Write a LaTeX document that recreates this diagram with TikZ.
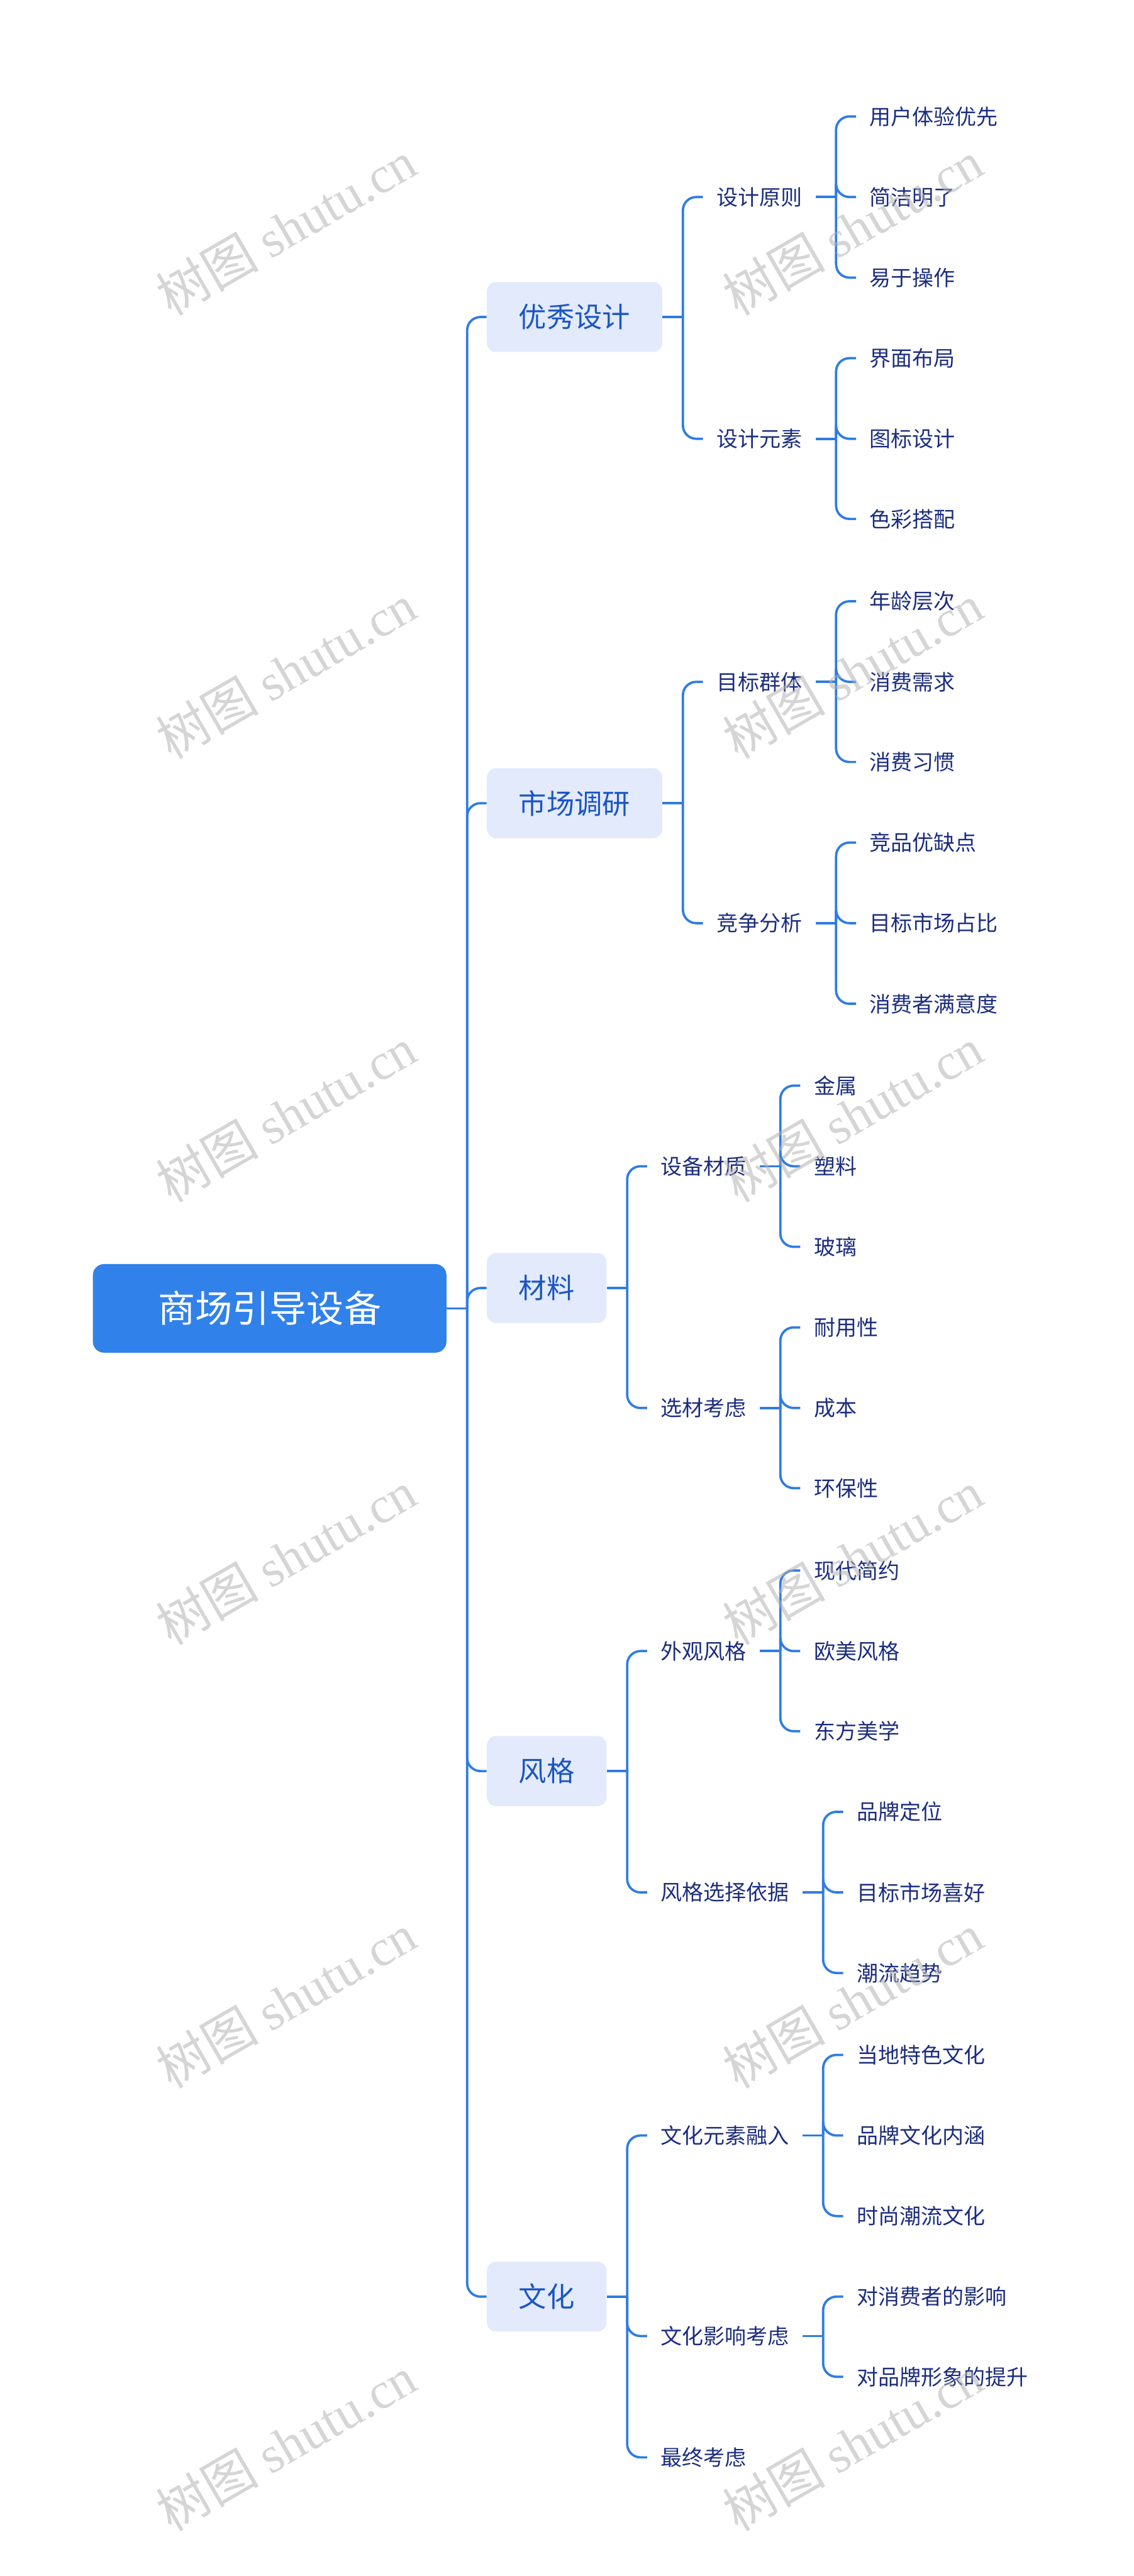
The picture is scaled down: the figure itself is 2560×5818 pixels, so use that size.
\documentclass[tikz,border=0pt]{standalone}
\usepackage{fontspec}
\setmainfont{Noto Sans CJK SC}
\newfontfamily\wmlatin{Liberation Serif}
\usetikzlibrary{positioning}

\definecolor{rootblue}{HTML}{3181EA}
\definecolor{linkblue}{HTML}{2F7CE3}
\definecolor{topicfill}{HTML}{E2EAFB}
\definecolor{topictext}{HTML}{1B55C2}
\definecolor{leaftext}{HTML}{1C2D7E}

% parent -> junction -> children
\newcommand{\mapbranch}[2]{%
  \draw[link] (#1.east) -- ++(46,0) coordinate (#1j);
  \foreach \c in {#2}{\draw[link] (#1j) |- (\c.west);}
}

\begin{document}
\begin{tikzpicture}[x=0.01cm,y=-0.01cm,
    root/.style={rectangle,rounded corners=0.25cm,fill=rootblue,text=white,
      font=\fontsize{23.9}{28}\selectfont,minimum width=7.98cm,minimum height=2cm},
    topic/.style={rectangle,rounded corners=0.2cm,fill=topicfill,text=topictext,
      font=\fontsize{17.9}{21}\selectfont,minimum height=1.58cm,inner xsep=0.72cm,
      anchor=west,xshift=0.9cm},
    sub/.style={text=leaftext,font=\fontsize{13.75}{16}\selectfont,
      inner xsep=0.3cm,inner ysep=0.1cm,anchor=west,xshift=0.91cm},
    link/.style={draw=linkblue,line width=1.5pt,rounded corners=0.3cm},
    wmark/.style={text=gray!60,opacity=0.55,rotate=30,font=\fontsize{33}{38}\selectfont}]
  \useasboundingbox (0,0) rectangle (2560,5818);

  \node[root] (root) at (609,2955) {商场引导设备};

  \node[topic] (t1) at (root.east |- 0,716) {优秀设计};
  \node[topic] (t2) at (root.east |- 0,1814) {市场调研};
  \node[topic] (t3) at (root.east |- 0,2909) {材料};
  \node[topic] (t4) at (root.east |- 0,4000) {风格};
  \node[topic] (t5) at (root.east |- 0,5187) {文化};

  % 优秀设计
  \node[sub] (s11) at (t1.east |- 0,445) {设计原则};
  \node[sub] (s12) at (t1.east |- 0,991) {设计元素};
  \node[sub] (l111) at (s11.east |- 0,263) {用户体验优先};
  \node[sub] (l112) at (s11.east |- 0,445) {简洁明了};
  \node[sub] (l113) at (s11.east |- 0,627) {易于操作};
  \node[sub] (l121) at (s12.east |- 0,809) {界面布局};
  \node[sub] (l122) at (s12.east |- 0,991) {图标设计};
  \node[sub] (l123) at (s12.east |- 0,1172) {色彩搭配};

  % 市场调研
  \node[sub] (s21) at (t2.east |- 0,1540) {目标群体};
  \node[sub] (s22) at (t2.east |- 0,2085) {竞争分析};
  \node[sub] (l211) at (s21.east |- 0,1358) {年龄层次};
  \node[sub] (l212) at (s21.east |- 0,1540) {消费需求};
  \node[sub] (l213) at (s21.east |- 0,1721) {消费习惯};
  \node[sub] (l221) at (s22.east |- 0,1903) {竞品优缺点};
  \node[sub] (l222) at (s22.east |- 0,2085) {目标市场占比};
  \node[sub] (l223) at (s22.east |- 0,2267) {消费者满意度};

  % 材料
  \node[sub] (s31) at (t3.east |- 0,2634) {设备材质};
  \node[sub] (s32) at (t3.east |- 0,3180) {选材考虑};
  \node[sub] (l311) at (s31.east |- 0,2452) {金属};
  \node[sub] (l312) at (s31.east |- 0,2634) {塑料};
  \node[sub] (l313) at (s31.east |- 0,2816) {玻璃};
  \node[sub] (l321) at (s32.east |- 0,2998) {耐用性};
  \node[sub] (l322) at (s32.east |- 0,3180) {成本};
  \node[sub] (l323) at (s32.east |- 0,3361) {环保性};

  % 风格
  \node[sub] (s41) at (t4.east |- 0,3729) {外观风格};
  \node[sub] (s42) at (t4.east |- 0,4274) {风格选择依据};
  \node[sub] (l411) at (s41.east |- 0,3547) {现代简约};
  \node[sub] (l412) at (s41.east |- 0,3729) {欧美风格};
  \node[sub] (l413) at (s41.east |- 0,3910) {东方美学};
  \node[sub] (l421) at (s42.east |- 0,4092) {品牌定位};
  \node[sub] (l422) at (s42.east |- 0,4274) {目标市场喜好};
  \node[sub] (l423) at (s42.east |- 0,4456) {潮流趋势};

  % 文化
  \node[sub] (s51) at (t5.east |- 0,4823) {文化元素融入};
  \node[sub] (s52) at (t5.east |- 0,5276) {文化影响考虑};
  \node[sub] (s53) at (t5.east |- 0,5550) {最终考虑};
  \node[sub] (l511) at (s51.east |- 0,4641) {当地特色文化};
  \node[sub] (l512) at (s51.east |- 0,4823) {品牌文化内涵};
  \node[sub] (l513) at (s51.east |- 0,5005) {时尚潮流文化};
  \node[sub] (l521) at (s52.east |- 0,5187) {对消费者的影响};
  \node[sub] (l522) at (s52.east |- 0,5368) {对品牌形象的提升};

  \mapbranch{root}{t1,t2,t3,t4,t5}
  \mapbranch{t1}{s11,s12}
  \mapbranch{t2}{s21,s22}
  \mapbranch{t3}{s31,s32}
  \mapbranch{t4}{s41,s42}
  \mapbranch{t5}{s51,s52,s53}
  \mapbranch{s11}{l111,l112,l113}
  \mapbranch{s12}{l121,l122,l123}
  \mapbranch{s21}{l211,l212,l213}
  \mapbranch{s22}{l221,l222,l223}
  \mapbranch{s31}{l311,l312,l313}
  \mapbranch{s32}{l321,l322,l323}
  \mapbranch{s41}{l411,l412,l413}
  \mapbranch{s42}{l421,l422,l423}
  \mapbranch{s51}{l511,l512,l513}
  \mapbranch{s52}{l521,l522}

  % watermark
  \foreach \wy [count=\k] in {515,1516,2517,3518,4519,5519}{
    \node[wmark] (wml\k) at (646,\wy) {树图 {\wmlatin shutu.cn}};
    \node[wmark] (wmr\k) at (1926,\wy) {树图 {\wmlatin shutu.cn}};
  }
\end{tikzpicture}
\end{document}
